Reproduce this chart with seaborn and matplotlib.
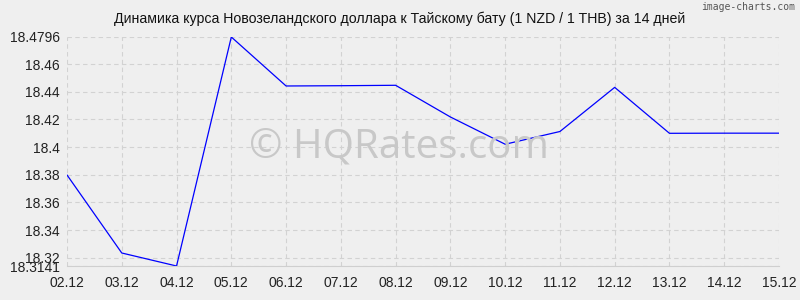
import matplotlib
matplotlib.use("Agg")
import matplotlib.pyplot as plt
import seaborn as sns
import pandas as pd

dates = ["02.12", "03.12", "04.12", "05.12", "06.12", "07.12", "08.12",
         "09.12", "10.12", "11.12", "12.12", "13.12", "14.12", "15.12"]
rates = [18.3799, 18.3235, 18.3141, 18.4796, 18.4442, 18.4444, 18.4447,
         18.4218, 18.4021, 18.4113, 18.4432, 18.4100, 18.4101, 18.4101]
yticks = [18.3141, 18.32, 18.34, 18.36, 18.38, 18.40, 18.42, 18.44, 18.46, 18.4796]
ytick_labels = ["18.3141", "18.32", "18.34", "18.36", "18.38", "18.4", "18.42",
                "18.44", "18.46", "18.4796"]
title = "Динамика курса Новозеландского доллара к Тайскому бату (1 NZD / 1 THB) за 14 дней"

sns.set_style("white")
plt.rcParams['font.family'] = ['Liberation Sans', 'DejaVu Sans']

df = pd.DataFrame({"x": range(len(dates)), "rate": rates})

fig = plt.figure(figsize=(8, 3), dpi=100, facecolor="#efefef")
ax = fig.add_axes([67/800, 1-266/300, (779-67)/800, (266-37)/300])
ax.set_facecolor("#efefef")

sns.lineplot(data=df, x="x", y="rate", ax=ax, color="#0000ff", linewidth=0.9)

ax.set_xlim(0, len(dates)-1)
ax.set_ylim(yticks[0], yticks[-1])
ax.set_xticks(range(len(dates)))
ax.set_xticklabels(dates)
ax.set_yticks(yticks)
ax.set_yticklabels(ytick_labels)
ax.tick_params(axis="both", labelsize=10, colors="#222222", length=4, color="#c8c8c8", pad=3)
ax.tick_params(axis="y", length=0, pad=5)
ax.grid(True, linestyle=(0, (4, 3)), color="#d2d2d2", linewidth=0.8)
for s in ["top", "right", "left"]:
    ax.spines[s].set_visible(False)
ax.spines["bottom"].set_color("#cfcfcf")
ax.spines["bottom"].set_linewidth(0.8)
ax.set_xlabel("")
ax.set_ylabel("")

fig.text(400/800, 1-19/300, title, ha="center", va="center", fontsize=10.2, color="#111111")
fig.text(795/800, 1-7/300, "image-charts.com", ha="right", va="center", fontsize=7,
         color="#555555", family=["DejaVu Sans Mono", "DejaVu Sans"])
fig.text(399/800, 1-147/300, "© HQRates.com", ha="center", va="center", fontsize=29,
         color="#c8c8c8", family=["Open Sans", "DejaVu Sans"], zorder=0)

fig.savefig("out.png", dpi=100, facecolor=fig.get_facecolor())
